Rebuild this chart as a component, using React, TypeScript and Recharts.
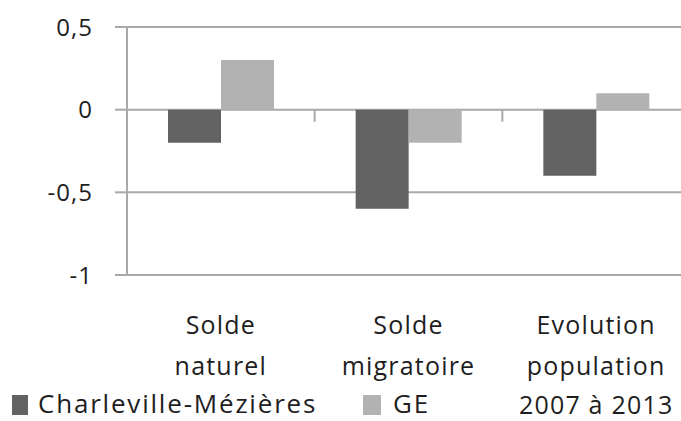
import React from "react";
import { BarChart, Bar, XAxis, YAxis, CartesianGrid } from "recharts";

const categories = ["Solde\nnaturel", "Solde\nmigratoire", "Evolution\npopulation\n2007 à 2013"];
const charleville = [-0.2, -0.6, -0.4];
const ge = [0.3, -0.2, 0.1];
const yTicks = [-1, -0.5, 0, 0.5];
const seriesNames = ["Charleville-Mézières", "GE"];
const colors = ["#626262", "#b2b2b2"];

const data = categories.map((c, i) => ({ name: c, a: charleville[i], b: ge[i] }));

const FONT = "'Open Sans', sans-serif";
const GRID = "#a9a9a9";
const TEXT = "#1e1e1e";
const PLOT_TOP = 27;
const X_AXIS_H = 146;
const CHART_H = 421;
const Y_MIN = -1;
const Y_MAX = 0.5;

const XTick = (props: any) => {
  const { x, y, payload, index } = props;
  const lines = String(payload.value).split("\n");
  const plotBottom = CHART_H - X_AXIS_H;
  const zeroY = PLOT_TOP + ((Y_MAX - 0) / (Y_MAX - Y_MIN)) * (plotBottom - PLOT_TOP);
  const bx = x + (payload.offset || 0);
  return (
    <g>
      {index < categories.length - 1 && (
        <line x1={bx} x2={bx} y1={zeroY} y2={zeroY + 12} stroke={GRID} strokeWidth={2} />
      )}
      <text x={x} y={y} textAnchor="middle" fontFamily={FONT} fontSize={25} fill={TEXT} letterSpacing={1.2}>
        {lines.map((l, i) => (
          <tspan key={i} x={x} dy={i === 0 ? 51 : i === 1 ? 41 : 39}>
            {l}
          </tspan>
        ))}
      </text>
    </g>
  );
};

const ChartLegend = () => (
  <div
    style={{
      position: "absolute",
      left: 0,
      top: 390,
      width: 681,
      height: 26,
      fontFamily: FONT,
      fontSize: 26,
      color: TEXT,
      letterSpacing: 1.8,
      lineHeight: "26px",
    }}
  >
    {seriesNames.map((n, i) => (
      <div
        key={n}
        style={{ position: "absolute", left: i === 0 ? 12 : 363, top: 0, display: "flex", alignItems: "center", height: 26, whiteSpace: "nowrap" }}
      >
        <span style={{ display: "inline-block", width: i === 0 ? 16 : 18, height: 20, background: colors[i], marginRight: i === 0 ? 10 : 12, position: "relative", top: 2 }} />
        <span>{n}</span>
      </div>
    ))}
  </div>
);

export default function App() {
  return (
    <div style={{ width: 681, height: 421, overflow: "hidden", position: "absolute", left: 0, top: 0, background: "#fff" }}>
      <BarChart
        width={690}
        height={CHART_H}
        data={data}
        margin={{ top: PLOT_TOP, right: 0, bottom: 0, left: 0 }}
        barGap={0}
        barSize={53}
      >
        <CartesianGrid vertical={false} stroke={GRID} strokeWidth={2} />
        <YAxis
          width={127}
          domain={[Y_MIN, Y_MAX]}
          ticks={yTicks}
          interval={0}
          tickFormatter={(v: number) => String(v).replace(".", ",")}
          tick={{ fontFamily: FONT, fontSize: 24, fill: TEXT, letterSpacing: 1 }}
          tickSize={12}
          tickMargin={22}
          tickLine={{ stroke: GRID, strokeWidth: 2 }}
          axisLine={{ stroke: GRID, strokeWidth: 2 }}
        />
        <XAxis dataKey="name" height={X_AXIS_H} axisLine={false} tickLine={false} tick={<XTick />} interval={0} />
        <Bar dataKey="a" name={seriesNames[0]} fill={colors[0]} isAnimationActive={false} />
        <Bar dataKey="b" name={seriesNames[1]} fill={colors[1]} isAnimationActive={false} />
      </BarChart>
      <ChartLegend />
    </div>
  );
}
